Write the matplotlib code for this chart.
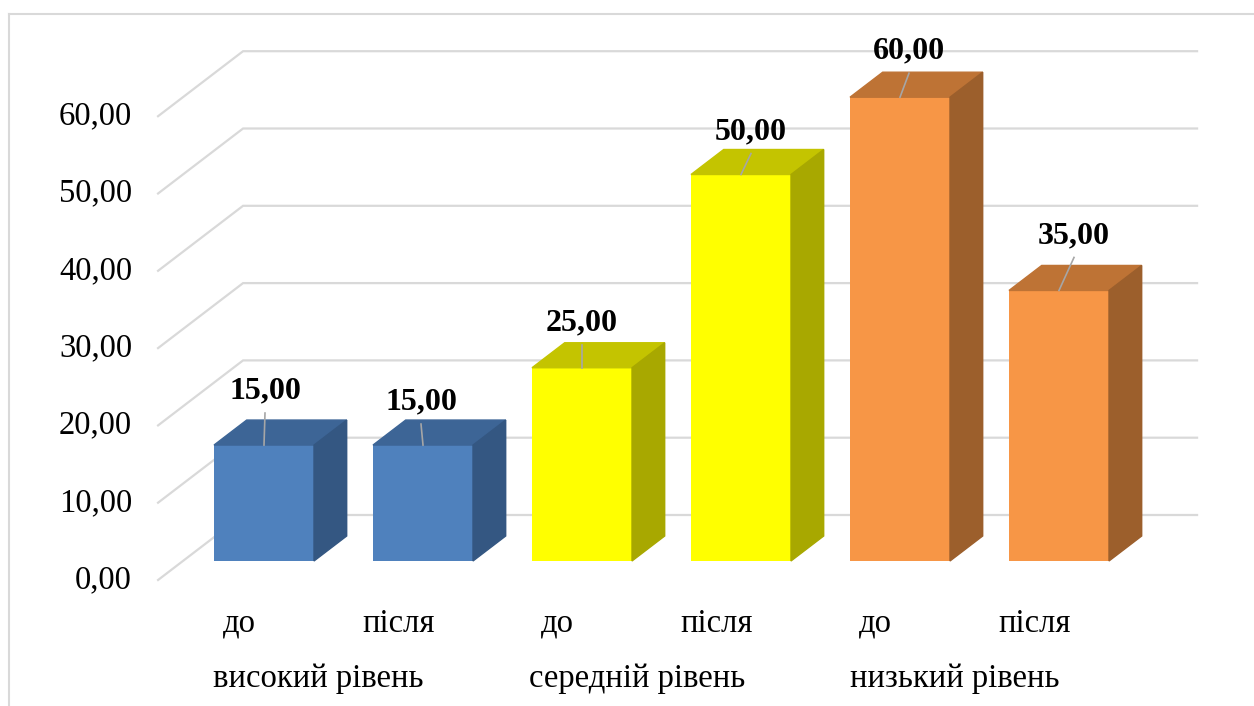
import matplotlib.pyplot as plt
from matplotlib.patches import Polygon

plt.rcParams['font.family'] = ['Liberation Serif', 'DejaVu Serif']

# data
groups = ['високий рівень', 'середній рівень', 'низький рівень']
stages = ['до', 'після']
values = [15.0, 15.0, 25.0, 50.0, 60.0, 35.0]
yticks = [0, 10, 20, 30, 40, 50, 60]

# colours per group: front, top, side
front_col = ['#4F81BD', '#FFFF00', '#F79646']
top_col = ['#3D6596', '#C4C400', '#BE7335']
side_col = ['#345782', '#A8A800', '#9C5F2C']

# layout (pixels)
W, H = 1254, 706
X0, PXX = 264, 159        # front centre of first bar, px per category
Y0, PXY = 561, 7.73       # zero line of bar front plane, px per unit
SLOPE = 85 / 65           # depth direction dx/dy in px
BAR_W = 100 / PXX
# label offsets (px): horizontal shift, height above front-top edge
lab_dx = [1, -2, 0, 10, 9, 15]
lab_dy = [54, 43, 45, 43, 46, 55]

fig = plt.figure(figsize=(W / 100, H / 100), dpi=100)
ax = fig.add_axes([0, 0, 1, 1])
ax.set_xlim(-X0 / PXX, (W - X0) / PXX)
ax.set_ylim(-(H - Y0) / PXY, Y0 / PXY)
ax.axis('off')


def depth(z):
    # offset in data units for a depth of z px (positive = towards back)
    return z * SLOPE / PXX, z / PXY


# chart border
fig.add_artist(plt.Line2D([9 / W, 1], [1 - 14 / H, 1 - 14 / H], color='#D9D9D9', lw=1.5))
fig.add_artist(plt.Line2D([9 / W, 9 / W], [0, 1 - 14 / H], color='#D9D9D9', lw=1.5))

# walls / gridlines
xl, xr = -0.51, 5.49
fx, fy = depth(-19)
bx, by = depth(46)
for v in yticks:
    ax.plot([xl + fx, xl + bx, xr + bx], [v + fy, v + by, v + by],
            color='#D9D9D9', lw=1.6, zorder=1, solid_joinstyle='miter')
    ax.text(xl + fx - 26 / PXX, v + fy, f'{v:.2f}'.replace('.', ','),
            ha='right', va='center', fontsize=23.5)

# bars
x = list(range(len(values)))
cols = [front_col[i // 2] for i in x]
ax.bar(x, values, width=BAR_W, color=cols, zorder=3)
dx, dy = depth(25)
for i, v in enumerate(values):
    g = i // 2
    l, r = i - BAR_W / 2, i + BAR_W / 2
    ax.add_patch(Polygon([(l, v), (r, v), (r + dx, v + dy), (l + dx, v + dy)],
                         closed=True, color=top_col[g], zorder=3))
    ax.add_patch(Polygon([(r, 0), (r + dx, dy), (r + dx, v + dy), (r, v)],
                         closed=True, color=side_col[g], zorder=3))
    tx = i + lab_dx[i] / PXX
    ty = v + lab_dy[i] / PXY
    ax.plot([i, tx], [v, ty - 22 / PXY], color='#A6A6A6', lw=1.2, zorder=4)
    ax.text(tx, ty, f'{v:.2f}'.replace('.', ','), ha='center', va='center',
            fontsize=23, fontweight='bold', zorder=5)

# category labels
for i in x:
    ax.text(i + fx, -(632 - Y0) / PXY, stages[i % 2], ha='center',
            va='baseline', fontsize=23.5)
for g, name in enumerate(groups):
    ax.text(2 * g + 0.5 + fx, -(687 - Y0) / PXY, name, ha='center',
            va='baseline', fontsize=23.5)

fig.savefig('out.png', dpi=100)
